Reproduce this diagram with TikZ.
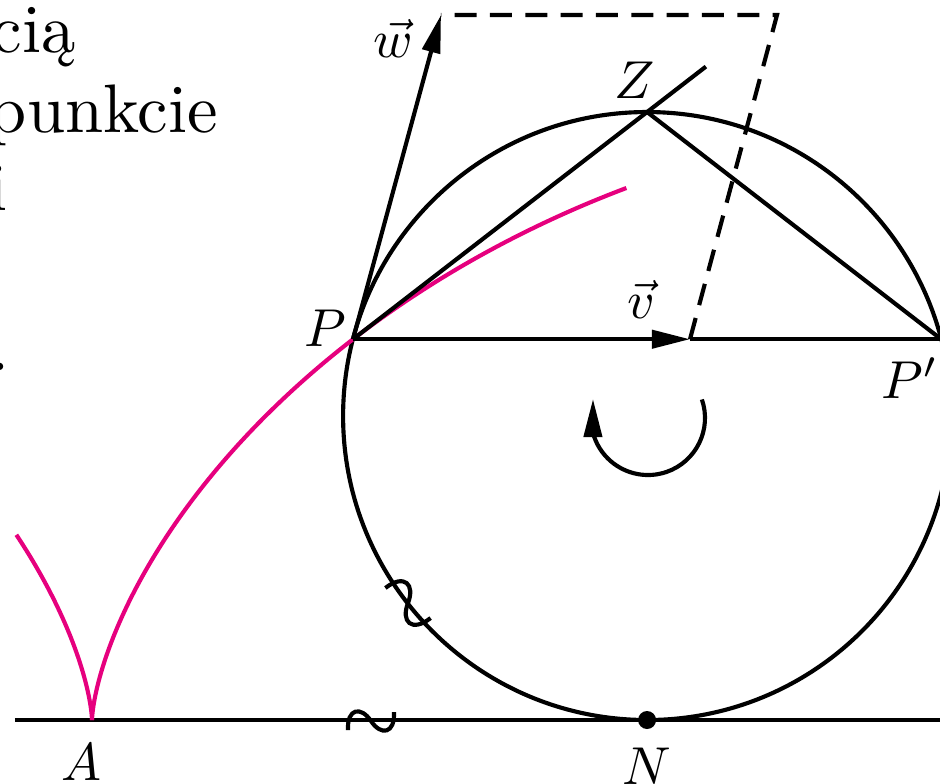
\documentclass[tikz,border=0pt]{standalone}
\usetikzlibrary{calc,arrows.meta}
\definecolor{cyclo}{RGB}{230,0,126}
\begin{document}
\begin{tikzpicture}[x=0.15pt,y=-0.15pt,line width=0.62pt,
  vec/.style={-{Triangle[length=5.7pt,width=2.7pt]}},
  lbl/.style={inner sep=0pt,scale=0.8},
  body/.style={inner sep=0pt,anchor=base east,scale=1.03},
  dsh/.style={dash pattern=on 3.3pt off 2.0pt}]
\useasboundingbox (0,0) rectangle (940,783);
\clip (0,0) rectangle (940,783);
% left text (cut off by the page)
\node[body] (t1) at (78,52) {cią};
\node[body] (t2) at (220,132) {punkcie};
\node[body] (t3) at (10,210) {i};
\node[body] (t4) at (12,370) {.};
% points
\coordinate (C) at (647.1,416);
\coordinate (P) at (353,339.2);
\coordinate (Pp) at (941.2,339.2);
\coordinate (Z) at (647.1,112);
\coordinate (N) at (647.1,720);
\coordinate (A) at (92,720);
\coordinate (vtip) at (690,339.2);
\coordinate (wtip) at (441,15);
\coordinate (corner) at (777,15);
\coordinate (Zext) at ($(P)!1.2!(Z)$);
\coordinate (gl) at (15,720);
\coordinate (gr) at (940,720);
% ground
\draw (gl) -- (gr);
% circle
\draw (C) circle[radius=304];
% cycloid
\draw[cyclo] plot[domain=0:2.42,samples=150,variable=\t]
  ({92+304*(\t-sin(\t r))},{720-304*(1-cos(\t r))});
\draw[cyclo] plot[domain=0:-1.17,samples=80,variable=\t]
  ({92+304*(\t-sin(\t r))},{720-304*(1-cos(\t r))});
% lines
\draw (P) -- (Zext);
\draw (Z) -- (Pp);
\draw[vec] (P) -- (vtip);
\draw (vtip) -- (Pp);
\draw[dsh] (vtip) -- (corner) -- (wtip);
\draw[vec] (P) -- (wtip);
% rotation arrow
\coordinate (R) at (648,418);
\coordinate (Rtip) at (593,399);
\draw[vec] ($(R)+(-19:57)$) arc[start angle=-19,end angle=165,radius=57] -- (Rtip);
% equal arc marks
\begin{scope}[shift={(371,721)}]
\draw (-23,9) .. controls (-24,-13) and (-10,-15) .. (0,0) .. controls (10,15) and (24,13) .. (23,-9);
\end{scope}
\begin{scope}[shift={(408,603)},rotate=-55,scale=1.1]
\draw (-23,9) .. controls (-24,-13) and (-10,-15) .. (0,0) .. controls (10,15) and (24,13) .. (23,-9);
\end{scope}
% N dot
\fill (N) circle[radius=9];
% labels
\node[lbl] (lP) at (325,328) {$P$};
\node[lbl] (lPp) at (910,378) {$P'$};
\node[lbl] (lZ) at (635,80) {$Z$};
\node[lbl] (lv) at (641,299) {$\vec{v}$};
\node[lbl] (lw) at (393,38) {$\vec{w}$};
\node[lbl] (lA) at (82,762) {$A$};
\node[lbl] (lN) at (647,766) {$N$};
\end{tikzpicture}
\end{document}
